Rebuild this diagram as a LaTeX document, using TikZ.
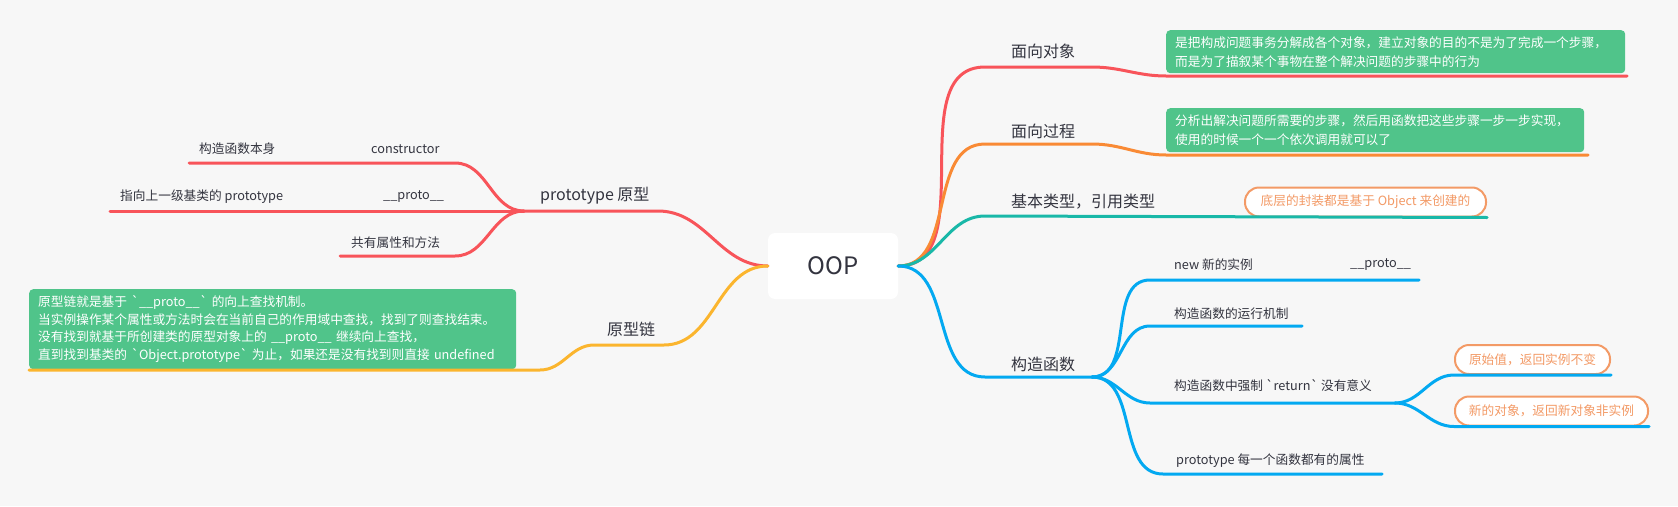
\documentclass[tikz,border=0pt]{standalone}
\usepackage{fontspec}
\setmainfont{Noto Sans CJK SC}
\definecolor{bg}{HTML}{F7F7F7}
\definecolor{ink}{HTML}{33343F}
\definecolor{redline}{HTML}{F8545A}
\definecolor{orangeline}{HTML}{F98A35}
\definecolor{tealline}{HTML}{19B8A8}
\definecolor{blueline}{HTML}{03A9F1}
\definecolor{yellowline}{HTML}{FBB52E}
\definecolor{notegreen}{HTML}{50C48A}
\definecolor{pillorange}{HTML}{F39A66}
\begin{document}
\begin{tikzpicture}[x=1pt,y=-1pt,
  every node/.style={inner sep=0pt, text=ink},
  topic/.style={anchor=west, font={\fontsize{16}{19}\selectfont}},
  leaf/.style={anchor=west, font={\fontsize{12.7}{15}\selectfont}},
  branch/.style={line width=3pt, line cap=round},
  notebox/.style={anchor=north west, fill=notegreen, rounded corners=4pt, text=white,
    align=left, inner xsep=9pt, font={\fontsize{12.7}{19}\selectfont}},
  pill/.style={draw=pillorange, line width=2pt, fill=white, rounded corners=14pt,
    text=pillorange, minimum height=29pt, font={\fontsize{12.7}{15}\selectfont}},
  rootbox/.style={fill=white, rounded corners=7pt, minimum width=130pt,
    minimum height=66pt, font={\fontsize{24}{28}\selectfont}}]
\fill [bg] (0,0) rectangle (1678,506);
\node [rootbox] (oop) at (833,266) {OOP};
% left side
\node [topic] (proto) at (540,196) {prototype 原型};
\node [leaf] (ctorself) at (199,149) {构造函数本身};
\node [leaf] (ctorkey) at (371,149) {constructor};
\node [leaf] (upper) at (120,197) {指向上一级基类的 prototype};
\node [leaf] (upperkey) at (383,197) {\_\_proto\_\_};
\node [leaf] (shared) at (351,243) {共有属性和方法};
\node [topic] (chain) at (607,329) {原型链};
\node [notebox, text width=469pt, minimum height=80pt, font={\fontsize{12.7}{17.5}\selectfont}] (chainnote) at (29,289)
  {原型链就是基于 \textasciigrave\_\_proto\_\_\textasciigrave\ 的向上查找机制。\\
   当实例操作某个属性或方法时会在当前自己的作用域中查找，找到了则查找结束。\\
   没有找到就基于所创建类的原型对象上的 \_\_proto\_\_ 继续向上查找，\\
   直到找到基类的 \textasciigrave Object.prototype\textasciigrave\ 为止，如果还是没有找到则直接 undefined};
% right side
\node [topic] (oo) at (1011,51) {面向对象};
\node [notebox, text width=441pt, minimum height=43pt] (oonote) at (1166,30)
  {是把构成问题事务分解成各个对象，建立对象的目的不是为了完成一个步骤，\\
   而是为了描叙某个事物在整个解决问题的步骤中的行为};
\node [topic] (op) at (1011,131) {面向过程};
\node [notebox, text width=400pt, minimum height=44pt] (opnote) at (1166,108)
  {分析出解决问题所需要的步骤，然后用函数把这些步骤一步一步实现，\\
   使用的时候一个一个依次调用就可以了};
\node [topic] (types) at (1011,202) {基本类型，引用类型};
\node [pill, minimum width=241pt] (typespill) at (1365.5,202) {底层的封装都是基于 Object 来创建的};
\node [topic] (ctor) at (1011,364) {构造函数};
\node [leaf] (newinst) at (1174,265) {new 新的实例};
\node [leaf] (newkey) at (1350,265) {\_\_proto\_\_};
\node [leaf] (run) at (1174,314) {构造函数的运行机制};
\node [leaf] (ret) at (1174,386) {构造函数中强制 \textasciigrave return\textasciigrave\ 没有意义};
\node [pill, minimum width=155pt] (retprim) at (1532.5,359.5) {原始值，返回实例不变};
\node [pill, minimum width=193pt] (retobj) at (1551.5,411) {新的对象，返回新对象非实例};
\node [leaf] (protoeach) at (1176,461) {prototype 每一个函数都有的属性};
% bends
\coordinate (prA) at (658,211);
\coordinate (prJ) at (524,211);
\coordinate (csA) at (455,163);
\coordinate (csB) at (189,163);
\coordinate (upB) at (110,211);
\coordinate (shA) at (455,256);
\coordinate (shB) at (340,256);
\coordinate (chA) at (664,345);
\coordinate (chB) at (594,345);
\coordinate (chC) at (540,370);
\coordinate (chD) at (29,370);
\coordinate (ooA) at (985,67);
\coordinate (ooB) at (1092,67);
\coordinate (ooC) at (1166,76);
\coordinate (ooD) at (1627,76);
\coordinate (opA) at (985,144);
\coordinate (opB) at (1092,144);
\coordinate (opC) at (1166,155);
\coordinate (opD) at (1588,155);
\coordinate (tyA) at (985,216);
\coordinate (coA) at (985,377);
\coordinate (coJ) at (1092,377);
\coordinate (neA) at (1150,280);
\coordinate (neB) at (1419,280);
\coordinate (ruA) at (1150,326);
\coordinate (ruB) at (1302,326);
\coordinate (reA) at (1150,403);
\coordinate (reJ) at (1395,403);
\coordinate (ptA) at (1163,474);
\coordinate (ptB) at (1382,474);
% branches
\draw [branch, redline] (oop.west) to[out=180,in=0] (prA) -- (prJ);
\draw [branch, redline] (prJ) to[out=180,in=0] (csA) -- (csB);
\draw [branch, redline] (prJ) -- (upB);
\draw [branch, redline] (prJ) to[out=180,in=0] (shA) -- (shB);
\draw [branch, yellowline] (oop.west) to[out=180,in=0] (chA) -- (chB) to[out=180,in=0] (chC) -- (chD);
\draw [branch, redline] (oop.east) to[out=0,in=180] (ooA) -- (ooB) to[out=0,in=180] (ooC) -- (ooD);
\draw [branch, orangeline] (oop.east) to[out=0,in=180] (opA) -- (opB) to[out=0,in=180] (opC) -- (opD);
\draw [branch, tealline] (oop.east) to[out=0,in=180] (tyA) -- (typespill.south east);
\draw [branch, blueline] (oop.east) to[out=0,in=180] (coA) -- (coJ);
\draw [branch, blueline] (coJ) to[out=0,in=180] (neA) -- (neB);
\draw [branch, blueline] (coJ) to[out=0,in=180] (ruA) -- (ruB);
\draw [branch, blueline] (coJ) to[out=0,in=180] (reA) -- (reJ);
\draw [branch, blueline] (coJ) to[out=0,in=180] (ptA) -- (ptB);
\draw [branch, blueline] (reJ) to[out=0,in=180] (retprim.south west) -- (retprim.south east);
\draw [branch, blueline] (reJ) to[out=0,in=180] (retobj.south west) -- (retobj.south east);
\end{tikzpicture}
\end{document}
